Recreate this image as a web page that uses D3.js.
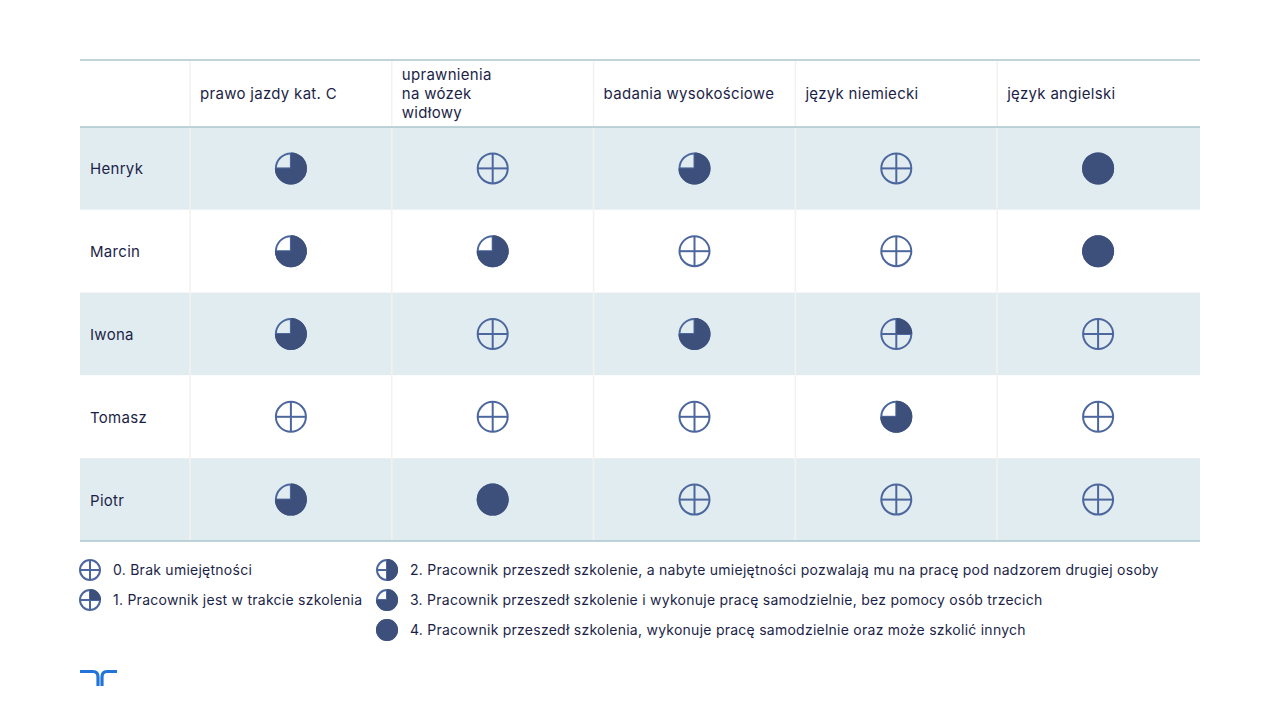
<!DOCTYPE html>
<html>
<head>
<meta charset="utf-8">
<script src="https://d3js.org/d3.v7.min.js"></script>
<style>
  body { margin: 0; background: #ffffff; }
  svg { display: block; font-family: "Inter", "Noto Sans", sans-serif; }
</style>
</head>
<body>
<svg id="chart" width="1280" height="720"></svg>
<script>
// skills (columns) and employees (rows)
var skills = [["prawo jazdy kat. C"], ["uprawnienia", "na wózek", "widłowy"], ["badania wysokościowe"], ["język niemiecki"], ["język angielski"]];
var people = ["Henryk", "Marcin", "Iwona", "Tomasz", "Piotr"];
// levels 0..4 per person, in skill order
var henryk = [3, 0, 3, 0, 4];
var marcin = [3, 3, 0, 0, 4];
var iwona  = [3, 0, 3, 1, 0];
var tomasz = [0, 0, 0, 3, 0];
var piotr  = [3, 4, 0, 0, 0];
var levels = [henryk, marcin, iwona, tomasz, piotr];

var legendLabels = [
  "0. Brak umiejętności",
  "1. Pracownik jest w trakcie szkolenia",
  "2. Pracownik przeszedł szkolenie, a nabyte umiejętności pozwalają mu na pracę pod nadzorem drugiej osoby",
  "3. Pracownik przeszedł szkolenie i wykonuje pracę samodzielnie, bez pomocy osób trzecich",
  "4. Pracownik przeszedł szkolenia, wykonuje pracę samodzielnie oraz może szkolić innych"
];

var textColor = "#1c1f48";
var ringColor = "#4c679e";
var fillColor = "#3d4f7b";
var rowBlue = "#e1ecf1";
var lineColor = "#abc6cc";

var svg = d3.select("#chart");

// scales
var x = d3.scaleBand().domain(d3.range(skills.length)).range([190, 1199]);
var y = d3.scaleBand().domain(people).range([127, 541]);

// draws one skill icon at (cx, cy)
function icon(g, cx, cy, level, r) {
  var ic = g.append("g").attr("transform", "translate(" + cx + "," + cy + ")");
  ic.append("circle").attr("r", r).attr("fill", "none")
    .attr("stroke", ringColor).attr("stroke-width", 2);
  if (level < 4) {
    ic.append("line").attr("x1", -r).attr("x2", r).attr("stroke", ringColor).attr("stroke-width", 2);
    ic.append("line").attr("y1", -r).attr("y2", r).attr("stroke", ringColor).attr("stroke-width", 2);
  }
  if (level > 0) {
    ic.append("path")
      .attr("d", d3.arc()({innerRadius: 0, outerRadius: r + 1, startAngle: 0, endAngle: level * Math.PI / 2}))
      .attr("fill", fillColor);
  }
}

// row backgrounds
svg.append("g").selectAll("rect")
  .data(people)
  .enter().append("rect")
  .attr("x", 80).attr("width", 1120)
  .attr("y", function(d) { return y(d); })
  .attr("height", y.bandwidth())
  .attr("fill", function(d, i) { return i % 2 === 0 ? rowBlue : "#ffffff"; });

// vertical separators
svg.append("g").selectAll("line")
  .data(d3.range(skills.length))
  .enter().append("line")
  .attr("x1", function(d) { return x(d); })
  .attr("x2", function(d) { return x(d); })
  .attr("y1", 61).attr("y2", 540)
  .attr("stroke", "#f4f2ee").attr("stroke-width", 1.5);

// horizontal rules
[60, 127, 541].forEach(function(yy) {
  svg.append("line").attr("x1", 80).attr("x2", 1200).attr("y1", yy).attr("y2", yy)
    .attr("stroke", lineColor).attr("stroke-width", 1.5);
});

// header labels
svg.append("g").selectAll("text")
  .data(skills)
  .enter().append("text")
  .attr("x", function(d, i) { return x(i) + 10; })
  .attr("y", function(d) { return 95 - (d.length - 1) * 19 / 2; })
  .attr("fill", textColor).attr("font-size", 15)
  .attr("letter-spacing", 0.3)
  .attr("dominant-baseline", "middle")
  .each(function(d) {
    var t = d3.select(this);
    d.forEach(function(line, k) {
      t.append("tspan").attr("x", t.attr("x")).attr("dy", k === 0 ? 0 : 19).text(line);
    });
  });

// row labels
svg.append("g").selectAll("text")
  .data(people)
  .enter().append("text")
  .attr("x", 90)
  .attr("y", function(d) { return y(d) + y.bandwidth() / 2 + 2; })
  .attr("dominant-baseline", "middle")
  .attr("fill", textColor).attr("font-size", 15)
  .attr("letter-spacing", 0.3)
  .text(function(d) { return d; });

// icons
var cells = svg.append("g");
levels.forEach(function(row, ri) {
  row.forEach(function(lv, ci) {
    icon(cells, x(ci) + x.bandwidth() / 2, y(people[ri]) + y.bandwidth() / 2, lv, 15);
  });
});

// legend
var legendPos = [[90, 570], [90, 600], [387, 570], [387, 600], [387, 630]];
var lg = svg.append("g");
legendLabels.forEach(function(label, i) {
  var p = legendPos[i];
  icon(lg, p[0], p[1], i, 10);
  lg.append("text").attr("x", p[0] + 23).attr("y", p[1] + 1)
    .attr("dominant-baseline", "middle")
    .attr("fill", textColor).attr("font-size", 14)
    .attr("letter-spacing", 0.25)
    .text(label);
});

// logo
var logo = svg.append("g").attr("fill", "none").attr("stroke", "#2175d9").attr("stroke-width", 3.2);
logo.append("path").attr("d", "M80,671.5 H93 Q98,671.5 98,677 V686");
logo.append("path").attr("d", "M117,671.5 H107 Q102,671.5 102,677 V686");
</script>
</body>
</html>
